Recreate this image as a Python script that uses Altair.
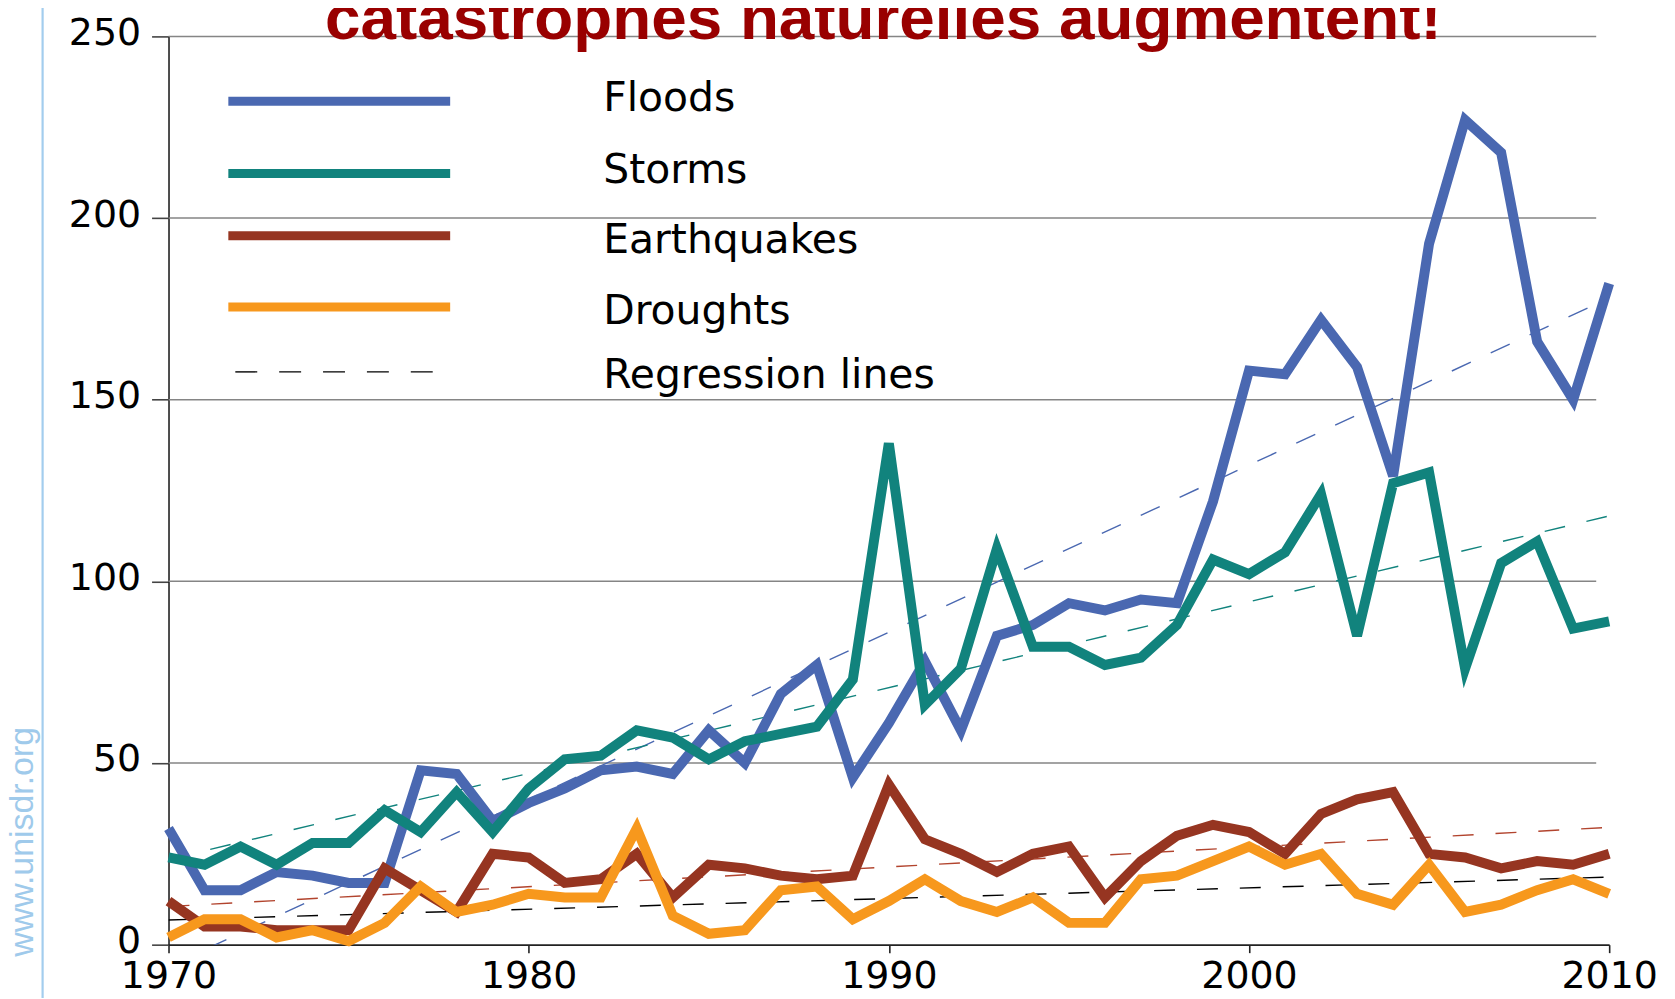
import altair as alt
import pandas as pd

# ---------------- data ----------------
years = list(range(1970, 2011))

floods = [32, 15, 15, 20, 19, 17, 17, 48, 47, 34,
          39, 43, 48, 49, 47, 59, 50, 69, 77, 46,
          61, 78, 59, 85, 88, 94, 92, 95, 94, 122,
          158, 157, 172, 159, 129, 193, 227, 218, 166, 150,
          182]
storms = [24, 22, 27, 22, 28, 28, 37, 31, 42, 31,
          43, 51, 52, 59, 57, 51, 56, 58, 60, 73,
          138, 66, 76, 109, 82, 82, 77, 79, 88, 106,
          102, 108, 124, 85, 127, 130, 76, 105, 111, 87,
          89]
earthquakes = [12, 5, 5, 4, 4, 4, 21, 15, 9, 25,
               24, 17, 18, 25, 13, 22, 21, 19, 18, 19,
               44, 29, 25, 20, 25, 27, 13, 23, 30, 33,
               31, 25, 36, 40, 42, 25, 24, 21, 23, 22,
               25]
droughts = [2, 7, 7, 2, 4, 1, 6, 16, 9, 11,
            14, 13, 13, 32, 8, 3, 4, 15, 16, 7,
            12, 18, 12, 9, 13, 6, 6, 18, 19, 23,
            27, 22, 25, 14, 11, 22, 9, 11, 15, 18,
            14]

series_names = ["Floods", "Storms", "Earthquakes", "Droughts"]
series_values = [floods, storms, earthquakes, droughts]
series_colors = ["#4a68b1", "#11837d", "#963521", "#f7981d"]

# regression lines: value at first and last year
reg_years = [1970, 2010]
reg_start = [-6, 23.5, 10.5, 6.8]
reg_end = [178, 118, 32.3, 18.6]
reg_colors = ["#4a68b1", "#11837d", "#b2442e", "#000000"]

y_ticks = [0, 50, 100, 150, 200, 250]
grid_values = [50, 100, 150, 200, 250]
x_ticks = [1970, 1980, 1990, 2000, 2010]

title_text = "catastrophes naturelles augmentent!"
source_text = "www.unisdr.org"
legend_labels = ["Floods", "Storms", "Earthquakes", "Droughts", "Regression lines"]

# ---------------- layout constants ----------------
W, H = 1445, 911
FONT = "DejaVu Sans"

x_scale = alt.Scale(domain=[1970, 2010], nice=False, zero=False)
y_scale = alt.Scale(domain=[0, 250], nice=False, zero=True)

x_axis = alt.Axis(values=x_ticks, format="d", title=None, grid=False,
                  labelFont=FONT, labelFontSize=38, labelColor="#000",
                  labelFlush=False, labelPadding=5, labelOverlap=False,
                  domainColor="#222", domainWidth=1.6,
                  tickColor="#222", tickWidth=1.6, tickSize=8)
y_axis = alt.Axis(values=y_ticks, title=None, grid=False,
                  labelFont=FONT, labelFontSize=38, labelColor="#000",
                  labelPadding=11, labelFlush=False, labelOffset=-3,
                  domainColor="#222", domainWidth=1.6,
                  tickColor="#444", tickWidth=1.6, tickSize=17)

X = alt.X("year:Q", scale=x_scale, axis=x_axis)
Y = alt.Y("value:Q", scale=y_scale, axis=y_axis)

layers = []

# gridlines
grid_df = pd.DataFrame({"value": grid_values})
layers.append(
    alt.Chart(grid_df).mark_rule(color="#858585", strokeWidth=1.5).encode(
        y=Y, x=alt.value(0), x2=alt.value(W - 13))
)

# regression lines
for name, s, e, c in zip(series_names, reg_start, reg_end, reg_colors):
    rdf = pd.DataFrame({"year": reg_years, "value": [s, e], "series": name})
    layers.append(
        alt.Chart(rdf).mark_line(color=c, strokeWidth=1.4,
                                 strokeDash=[21, 22], clip=True).encode(
            x=X, y=Y, order="year:Q")
    )

# data lines
for name, vals, c in zip(series_names, series_values, series_colors):
    sdf = pd.DataFrame({"year": years, "value": vals, "series": name})
    layers.append(
        alt.Chart(sdf).mark_line(color=c, strokeWidth=10).encode(
            x=X, y=Y, order="year:Q")
    )

# legend (drawn by hand, like the original slide)
leg_line_y = [65, 137.5, 200, 271.5]
leg_text_y = [75, 147.5, 217.5, 288.5, 352.5]
for i, lab in enumerate(legend_labels):
    one = pd.DataFrame({"label": [lab]})
    if i < 4:
        layers.append(
            alt.Chart(one).mark_rule(color=series_colors[i], strokeWidth=9).encode(
                x=alt.value(60), x2=alt.value(282.5), y=alt.value(leg_line_y[i]))
        )
    else:
        layers.append(
            alt.Chart(one).mark_rule(color="#000", strokeWidth=1.4,
                                     strokeDash=[22, 22]).encode(
                x=alt.value(67), x2=alt.value(270), y=alt.value(336.5))
        )
    layers.append(
        alt.Chart(one).mark_text(font=FONT, fontSize=41, color="#000",
                                 align="left", baseline="alphabetic").encode(
            text="label:N", x=alt.value(436), y=alt.value(leg_text_y[i]))
    )

# title (partly cut at the top, as in the original)
layers.append(
    alt.Chart(pd.DataFrame({"t": [title_text]})).mark_text(
        font="Liberation Sans", fontWeight="bold", fontSize=64,
        color="#990000", align="left", baseline="alphabetic").encode(
        text="t:N", x=alt.value(157), y=alt.value(2.5))
)

# source text and light-blue slide rule on the left
layers.append(
    alt.Chart(pd.DataFrame({"t": [source_text]})).mark_rule(
        color="#a3cdee", strokeWidth=2.2).encode(
        x=alt.value(-126.3), y=alt.value(-40), y2=alt.value(990))
)
layers.append(
    alt.Chart(pd.DataFrame({"t": [source_text]})).mark_text(
        font="Liberation Sans", fontSize=34, color="#9fcaeb", angle=270,
        align="left", baseline="alphabetic").encode(
        text="t:N", x=alt.value(-135.5), y=alt.value(923))
)

chart = alt.layer(*layers).properties(
    width=W, height=H,
    autosize=alt.AutoSizeParams(type="none"),
    padding={"left": 161, "top": 27, "right": 58, "bottom": 52},
    background="white",
).configure_view(stroke=None)

chart.save("out.html", embed_options={"renderer": "svg", "actions": False})
